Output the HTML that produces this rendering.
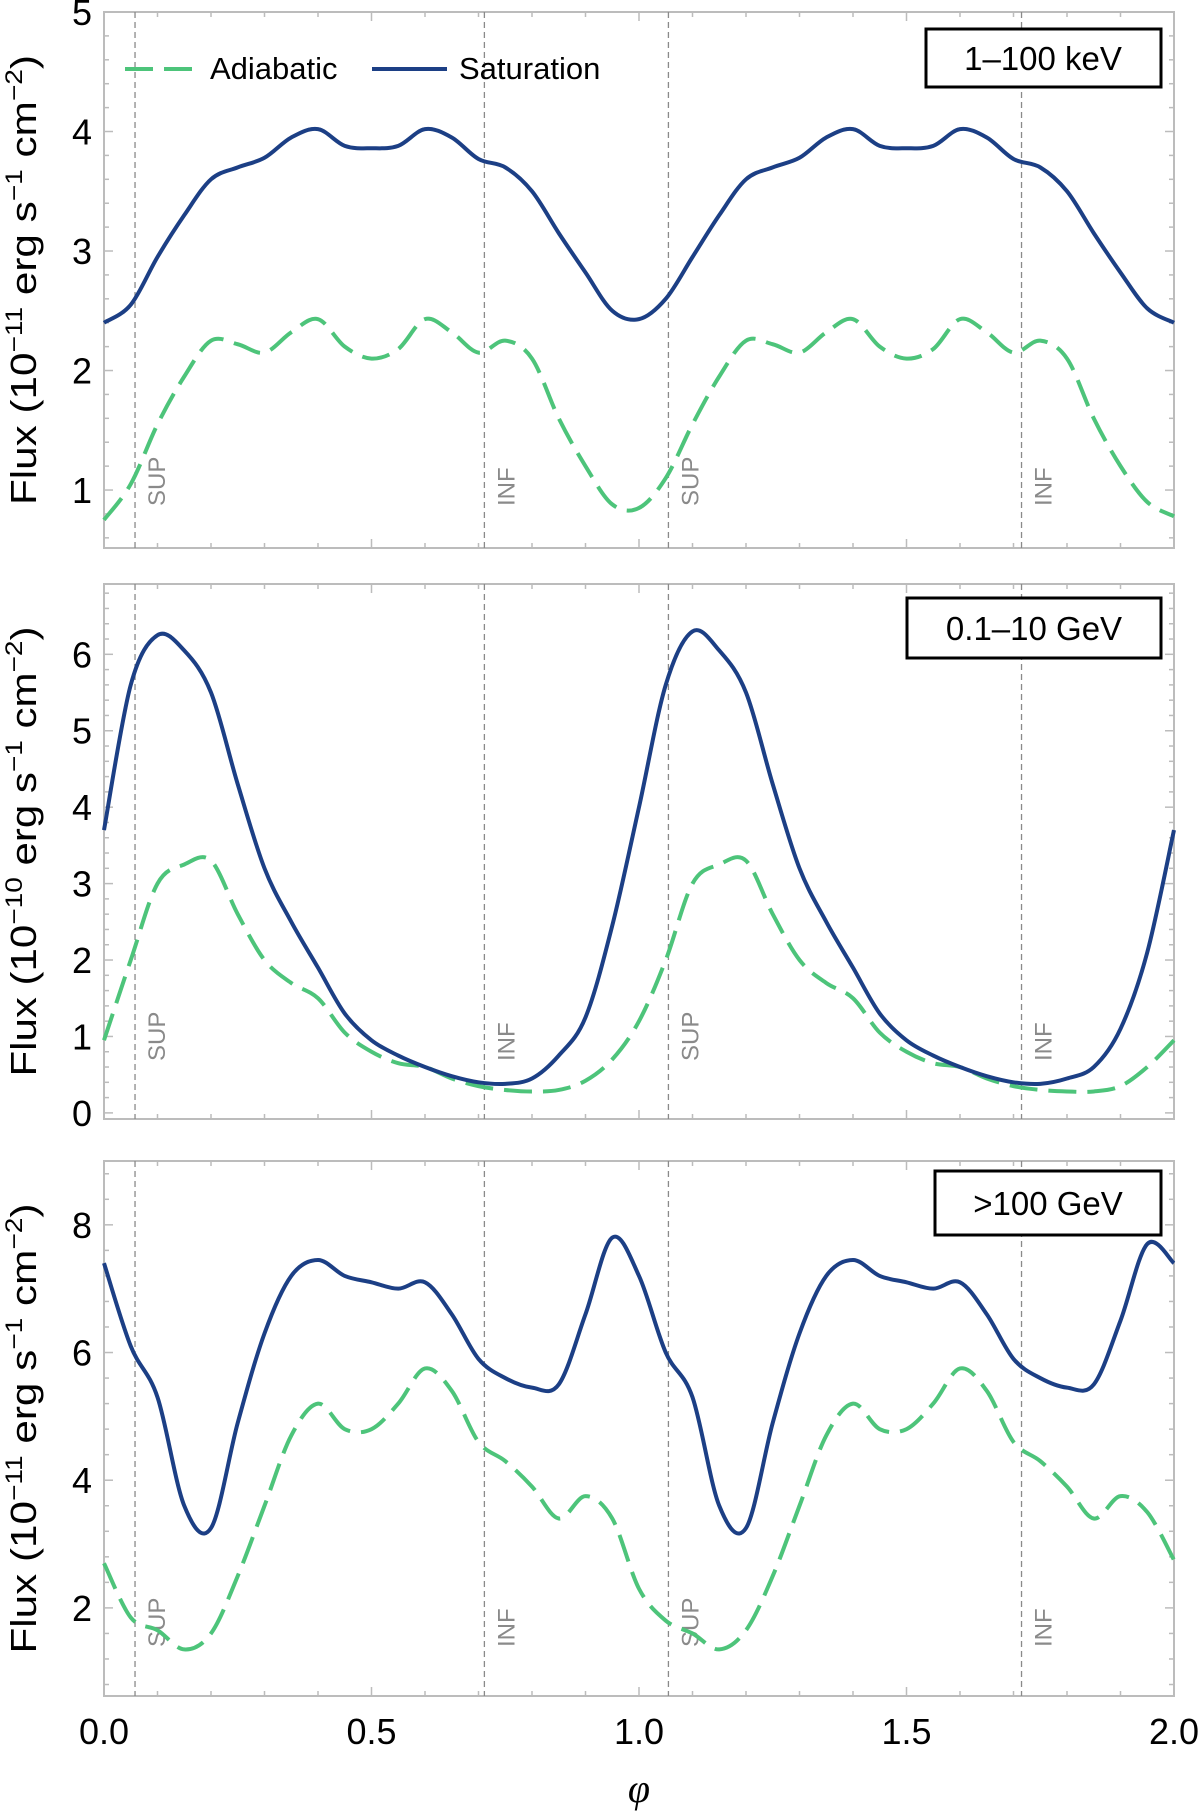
<!DOCTYPE html>
<html><head><meta charset="utf-8"><style>
html,body{margin:0;padding:0;background:#fff}
svg{display:block;font-family:"Liberation Sans",sans-serif}
</style></head><body>
<svg id="chart" width="1200" height="1813" viewBox="0 0 1200 1813" xmlns="http://www.w3.org/2000/svg"></svg>
<script>
const phases = [0,0.05,0.1,0.15,0.2,0.25,0.3,0.35,0.4,0.45,0.5,0.55,0.6,0.65,0.7,0.75,0.8,0.85,0.9,0.95,1.0,1.05,1.1,1.15,1.2,1.25,1.3,1.35,1.4,1.45,1.5,1.55,1.6,1.65,1.7,1.75,1.8,1.85,1.9,1.95,2.0];
const satKeV = [2.4,2.55,2.95,3.3,3.6,3.7,3.78,3.95,4.02,3.88,3.86,3.88,4.02,3.95,3.77,3.7,3.5,3.15,2.82,2.5,2.43,2.6,2.95,3.3,3.6,3.7,3.78,3.95,4.02,3.88,3.86,3.88,4.02,3.95,3.77,3.7,3.5,3.15,2.82,2.52,2.4];
const adiKeV = [0.75,1.05,1.55,1.95,2.25,2.22,2.15,2.32,2.43,2.2,2.1,2.18,2.43,2.32,2.15,2.25,2.1,1.6,1.2,0.88,0.85,1.1,1.55,1.95,2.25,2.22,2.15,2.32,2.43,2.2,2.1,2.18,2.43,2.32,2.15,2.25,2.1,1.6,1.2,0.9,0.78];
const satGeV = [3.7,5.6,6.25,6.05,5.5,4.3,3.2,2.5,1.9,1.3,0.95,0.75,0.6,0.48,0.4,0.38,0.45,0.75,1.25,2.45,4.0,5.6,6.3,6.05,5.5,4.3,3.2,2.5,1.9,1.3,0.95,0.75,0.6,0.48,0.4,0.38,0.45,0.6,1.1,2.1,3.7];
const adiGeV = [0.95,2.0,3.0,3.25,3.3,2.6,2.0,1.7,1.5,1.05,0.8,0.65,0.6,0.45,0.35,0.3,0.28,0.3,0.42,0.7,1.2,2.0,3.0,3.25,3.3,2.6,2.0,1.7,1.5,1.05,0.8,0.65,0.6,0.45,0.35,0.3,0.28,0.28,0.35,0.6,0.95];
const satTeV = [7.4,6.1,5.3,3.6,3.25,4.9,6.3,7.2,7.45,7.2,7.1,7.0,7.1,6.6,5.9,5.6,5.45,5.5,6.6,7.8,7.2,6.0,5.3,3.6,3.25,4.9,6.3,7.2,7.45,7.2,7.1,7.0,7.1,6.6,5.9,5.6,5.45,5.5,6.5,7.7,7.4];
const adiTeV = [2.7,1.85,1.65,1.35,1.6,2.5,3.6,4.7,5.2,4.8,4.8,5.2,5.75,5.4,4.6,4.3,3.9,3.4,3.75,3.4,2.3,1.8,1.6,1.35,1.65,2.5,3.6,4.7,5.2,4.8,4.8,5.2,5.75,5.4,4.6,4.3,3.9,3.4,3.75,3.5,2.75];
const xTicks = [0,0.5,1,1.5,2];
const xTickLabels = ["0.0","0.5","1.0","1.5","2.0"];
const markers = [0.058,0.711,1.055,1.715];
const markerLabels = ["SUP","INF","SUP","INF"];
const panelLabels = ["1\u2013100 keV","0.1\u201310 GeV",">100 GeV"];
const yTicks1 = [1,2,3,4,5], yTicks2 = [0,1,2,3,4,5,6], yTicks3 = [2,4,6,8];

const NS="http://www.w3.org/2000/svg";
const svg=document.getElementById('chart');
function mk(tag,attrs,parent){const e=document.createElementNS(NS,tag);for(const k in attrs)e.setAttribute(k,attrs[k]);(parent||svg).appendChild(e);return e;}
const X0=104,X1=1174;
const xs=v=>X0+(v/2)*(X1-X0);
const panels=[
 {top:12,bot:548,ymin:0.515,ymax:5,sat:satKeV,adi:adiKeV,ticks:yTicks1,minor:0.2,exp:"\u221211",box:[926,29,235,58],tx:1043,lbl:506,name:"kev"},
 {top:584,bot:1119,ymin:-0.08,ymax:6.92,sat:satGeV,adi:adiGeV,ticks:yTicks2,minor:0.2,exp:"\u221210",box:[907,598,254,60],tx:1034,lbl:1061,name:"gev"},
 {top:1161,bot:1696,ymin:0.62,ymax:9.0,sat:satTeV,adi:adiTeV,ticks:yTicks3,minor:0.4,exp:"\u221211",box:[935,1171,226,64],tx:1048,lbl:1647,name:"tev"}
];
function pathFor(vals,ys){
 const p=phases.map((ph,i)=>[xs(ph),ys(vals[i])]);
 let d="M"+p[0][0]+","+p[0][1];
 for(let i=0;i<p.length-1;i++){
  const a=p[Math.max(i-1,0)],b=p[i],c=p[i+1],e=p[Math.min(i+2,p.length-1)];
  const c1=[b[0]+(c[0]-a[0])/6,b[1]+(c[1]-a[1])/6],c2=[c[0]-(e[0]-b[0])/6,c[1]-(e[1]-b[1])/6];
  d+=` C${c1[0]},${c1[1]} ${c2[0]},${c2[1]} ${c[0]},${c[1]}`;
 }
 return d;
}
panels.forEach((P,pi)=>{
 const g=mk('g',{});
 
 
 const ys=v=>P.bot-(v-P.ymin)/(P.ymax-P.ymin)*(P.bot-P.top);
 const fr=mk('rect',{x:X0,y:P.top,width:X1-X0,height:P.bot-P.top,fill:'none',stroke:'#bcbcbc','stroke-width':2},g);
 
 
 for(let t=0;t<=2.0001;t+=0.1){
  const maj=Math.abs(t*2-Math.round(t*2))<1e-6;const L=maj?9:5;const x=xs(t);
  mk('line',{x1:x,x2:x,y1:P.bot,y2:P.bot-L,stroke:'#bcbcbc','stroke-width':1.5},g);
  mk('line',{x1:x,x2:x,y1:P.top,y2:P.top+L,stroke:'#bcbcbc','stroke-width':1.5},g);
 }
 for(let v=Math.ceil(P.ymin/P.minor)*P.minor;v<=P.ymax+1e-6;v+=P.minor){
  const maj=P.ticks.some(t=>Math.abs(t-v)<1e-6);const L=maj?9:5;const y=ys(v);
  mk('line',{x1:X0,x2:X0+L,y1:y,y2:y,stroke:'#bcbcbc','stroke-width':1.5},g);
  mk('line',{x1:X1,x2:X1-L,y1:y,y2:y,stroke:'#bcbcbc','stroke-width':1.5},g);
 }
 P.ticks.forEach(t=>{
  const tl=mk('text',{x:X0-12,y:ys(t)+13,'text-anchor':'end','font-size':36,fill:'#000'},g);
  tl.textContent=t;
  
  
 });
 markers.forEach((m,i)=>{
  const ml=mk('line',{x1:xs(m),x2:xs(m),y1:P.top,y2:P.bot,stroke:'#8a8a8a','stroke-width':1.3,'stroke-dasharray':'6,4'},g);
  
  
  const mt=mk('text',{x:0,y:0,'font-size':24,fill:'#8a8a8a',transform:`translate(${xs(m)+30},${P.lbl}) rotate(-90)`},g);
  mt.textContent=markerLabels[i];
  
  
 });
 const a=mk('path',{d:pathFor(P.adi,ys),fill:'none',stroke:'#4dc47a','stroke-width':4,'stroke-dasharray':'28,11'},g);
 
 
 const s=mk('path',{d:pathFor(P.sat,ys),fill:'none',stroke:'#1c3f85','stroke-width':4},g);
 
 
 const b=P.box;
 const br=mk('rect',{x:b[0],y:b[1],width:b[2],height:b[3],fill:'#fff',stroke:'#000','stroke-width':3},g);
 
 
 const bt=mk('text',{x:P.tx,y:b[1]+b[3]/2+12,'text-anchor':'middle','font-size':33},g);
 bt.textContent=panelLabels[pi];
 
 
 const cy=(P.top+P.bot)/2;
 const yt=mk('text',{x:0,y:0,'text-anchor':'middle','font-size':36,textLength:450,lengthAdjust:'spacingAndGlyphs',transform:`translate(36,${cy}) rotate(-90)`},g);
 yt.innerHTML=`Flux (10<tspan dy="-14" font-size="24">${P.exp}</tspan><tspan dy="14"> erg s</tspan><tspan dy="-14" font-size="24">\u22121</tspan><tspan dy="14"> cm</tspan><tspan dy="-14" font-size="24">\u22122</tspan><tspan dy="14">)</tspan>`;
 
 
});
xTicks.forEach((t,i)=>{
 const tl=mk('text',{x:xs(t),y:1744,'text-anchor':'middle','font-size':36});
 tl.textContent=xTickLabels[i];
 
 
});
const xt=mk('text',{x:639,y:1802,'text-anchor':'middle','font-size':40,'font-style':'italic','font-family':'Liberation Serif, serif'});
xt.textContent='\u03C6';


const lg=mk('g',{});


const l1=mk('line',{x1:125,x2:192,y1:69,y2:69,stroke:'#4dc47a','stroke-width':4,'stroke-dasharray':'28,11'},lg);


const t1=mk('text',{x:210,y:79,'font-size':31},lg);t1.textContent='Adiabatic';


const l2=mk('line',{x1:372,x2:447,y1:69,y2:69,stroke:'#1c3f85','stroke-width':4},lg);


const t2=mk('text',{x:459,y:79,'font-size':31},lg);t2.textContent='Saturation';


</script>
</body></html>
